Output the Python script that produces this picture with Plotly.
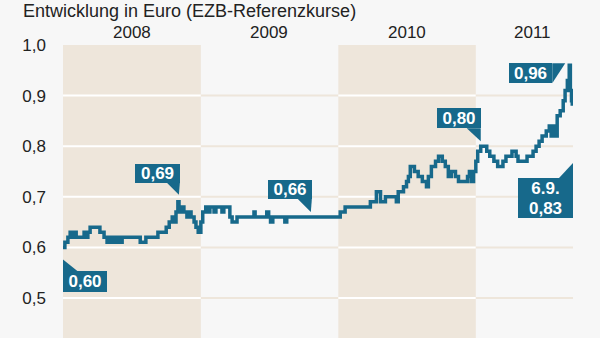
import plotly.graph_objects as go

# ---- data ----
dates = [
    "2008-01-01", "2008-01-06", "2008-01-14", "2008-01-20", "2008-01-22", "2008-01-30",
    "2008-02-05", "2008-02-26", "2008-03-02", "2008-03-07", "2008-03-13", "2008-04-08",
    "2008-04-19", "2008-04-27", "2008-05-05", "2008-05-07", "2008-05-15", "2008-05-18",
    "2008-05-26", "2008-05-29", "2008-06-06", "2008-07-24", "2008-08-08", "2008-09-09",
    "2008-10-01", "2008-10-09", "2008-10-17", "2008-10-22", "2008-10-27", "2008-11-01",
    "2008-11-04", "2008-11-07", "2008-11-12", "2008-11-17", "2008-11-25", "2008-12-01",
    "2008-12-06", "2008-12-14", "2008-12-19", "2008-12-25",
    "2009-01-01", "2009-01-06", "2009-01-14", "2009-01-20", "2009-01-25", "2009-02-05",
    "2009-02-10", "2009-02-26", "2009-03-03", "2009-03-19", "2009-03-25", "2009-04-07",
    "2009-05-22", "2009-05-25", "2009-06-25", "2009-06-30", "2009-07-05", "2009-07-11",
    "2009-08-12", "2009-08-17",
    "2010-01-01", "2010-01-06", "2010-01-19", "2010-03-27", "2010-04-12", "2010-04-23",
    "2010-05-06", "2010-06-04", "2010-06-09", "2010-06-23", "2010-07-01", "2010-07-06",
    "2010-07-11", "2010-07-22", "2010-08-01", "2010-08-12", "2010-08-23", "2010-08-28",
    "2010-09-05", "2010-09-16", "2010-09-24", "2010-10-04", "2010-10-12", "2010-10-20",
    "2010-10-28", "2010-11-08", "2010-11-16", "2010-12-10", "2010-12-15", "2010-12-20",
    "2010-12-26",
    "2011-01-01", "2011-01-06", "2011-01-14", "2011-01-30", "2011-02-07", "2011-02-18",
    "2011-02-28", "2011-03-14", "2011-03-22", "2011-04-07", "2011-04-18", "2011-04-23",
    "2011-05-17", "2011-06-02", "2011-06-10", "2011-06-18", "2011-06-26", "2011-07-07",
    "2011-07-15", "2011-07-20", "2011-07-25", "2011-07-31", "2011-08-05", "2011-08-13",
    "2011-08-21", "2011-08-26", "2011-09-01", "2011-09-06", "2011-09-09", "2011-09-12",
    "2011-09-14",
]
values = [
    0.60, 0.61, 0.62, 0.63, 0.62, 0.63,
    0.62, 0.63, 0.62, 0.63, 0.64, 0.63,
    0.62, 0.61, 0.62, 0.61, 0.62, 0.61,
    0.62, 0.61, 0.62, 0.61, 0.62, 0.63,
    0.64, 0.65, 0.66, 0.65, 0.67, 0.69,
    0.68, 0.67, 0.68, 0.67, 0.66, 0.67,
    0.66, 0.65, 0.64, 0.63,
    0.65, 0.67, 0.68, 0.67, 0.68, 0.67,
    0.68, 0.67, 0.68, 0.66, 0.65, 0.66,
    0.67, 0.66, 0.67, 0.66, 0.65, 0.66,
    0.65, 0.66,
    0.66, 0.67, 0.68, 0.69, 0.71, 0.69,
    0.70, 0.69, 0.71, 0.72, 0.73, 0.74,
    0.76, 0.75, 0.74, 0.73, 0.72, 0.74,
    0.76, 0.77, 0.78, 0.77, 0.76, 0.74,
    0.75, 0.74, 0.73, 0.74, 0.75, 0.73,
    0.75,
    0.77, 0.79, 0.80, 0.79, 0.78, 0.77,
    0.76, 0.77, 0.78, 0.79, 0.78, 0.77,
    0.78, 0.79, 0.80, 0.81, 0.82, 0.83,
    0.84, 0.82, 0.84, 0.82, 0.86, 0.87,
    0.89, 0.91, 0.93, 0.96, 0.91, 0.89,
    0.88,
]

title_text = "Entwicklung in Euro (EZB-Referenzkurse)"
years = ["2008", "2009", "2010", "2011"]
year_starts = ["2008-01-01", "2009-01-01", "2010-01-01", "2011-01-01"]
year_ends = ["2009-01-01", "2010-01-01", "2011-01-01", "2011-09-16"]
year_label_pos = ["2008-07-02", "2009-07-02", "2010-07-02", "2011-06-01"]
year_shaded = [True, False, True, False]
y_ticks = [0.5, 0.6, 0.7, 0.8, 0.9, 1.0]
grid_vals = [0.5, 0.6, 0.7, 0.8, 0.9]

# callouts: text lines, anchor date, anchor value
callout_lines = [["0,60"], ["0,69"], ["0,66"], ["0,80"], ["0,96"], ["6.9.", "0,83"]]
callout_x = ["2008-01-01", "2008-11-01", "2009-10-20", "2011-01-14", "2011-09-06", "2011-09-16"]
callout_y = [0.60, 0.69, 0.66, 0.80, 0.96, 0.83]

# ---- styles ----
TEAL = "#17698b"
BEIGE = "#eee6db"
BG = "#f7f7f7"
TXT = "#222222"
FONT = "Liberation Sans, Arial, sans-serif"

# per-callout box placement (pixels relative to anchor point)
box_style = [
    dict(xanchor="left", yanchor="top", xshift=0, yshift=-24, width=44, line_h=21,
         ptr="M0,-12 L0,-24 L15,-24 Z"),
    dict(xanchor="right", yanchor="bottom", xshift=2, yshift=19, width=45, line_h=19,
         ptr="M-11,19 L2,19 L1,7 Z"),
    dict(xanchor="right", yanchor="bottom", xshift=1, yshift=18, width=44, line_h=19,
         ptr="M-13,18 L1,18 L0,5 Z"),
    dict(xanchor="right", yanchor="bottom", xshift=0, yshift=18, width=44, line_h=20,
         ptr="M-14,18 L0,18 L0,5 Z"),
    dict(xanchor="right", yanchor="top", xshift=-17, yshift=2, width=43, line_h=20,
         ptr="M-17,2 L-4,2 L-17,-18 Z"),
    dict(xanchor="right", yanchor="top", xshift=0, yshift=-47, width=55, line_h=20,
         ptr="M0,-32 L0,-47 L-14,-47 Z"),
]

y_range = [0.4209, 1.0]

fig = go.Figure()
fig.add_trace(go.Scatter(
    x=dates, y=values, mode="lines", line=dict(color=TEAL, width=3.5, shape="hv"),
    hoverinfo="skip", showlegend=False,
))

shapes = []
# year bands
for ys, ye, sh in zip(year_starts, year_ends, year_shaded):
    if sh:
        shapes.append(dict(type="rect", xref="x", yref="y", x0=ys, x1=ye,
                           y0=y_range[0], y1=1.0, fillcolor=BEIGE, line_width=0,
                           layer="below"))
# grid lines per year segment
for ys, ye, sh in zip(year_starts, year_ends, year_shaded):
    for g in grid_vals:
        shapes.append(dict(type="line", xref="x", yref="y", x0=ys, x1=ye, y0=g, y1=g,
                           line=dict(color="#ffffff" if sh else BEIGE, width=2),
                           layer="below"))
# callout pointers
for cx, cy, st in zip(callout_x, callout_y, box_style):
    shapes.append(dict(type="path", xref="x", yref="y", xsizemode="pixel",
                       ysizemode="pixel", xanchor=cx, yanchor=cy, path=st["ptr"],
                       fillcolor=TEAL, line_width=0, layer="above"))

annotations = []
for lines, cx, cy, st in zip(callout_lines, callout_x, callout_y, box_style):
    n = len(lines)
    for i, t in enumerate(lines):
        # stack lines as adjacent boxes forming one label
        if st["yanchor"] == "top":
            ysh = st["yshift"] - i * st["line_h"]
        else:
            ysh = st["yshift"] + (n - 1 - i) * st["line_h"]
        annotations.append(dict(
            x=cx, y=cy, xref="x", yref="y", text="<b>" + t + "</b>", showarrow=False,
            xanchor=st["xanchor"], yanchor=st["yanchor"], xshift=st["xshift"],
            yshift=ysh, width=st["width"], height=st["line_h"],
            bgcolor=TEAL, borderpad=0, borderwidth=0, align="center", valign="middle",
            font=dict(family=FONT, size=17, color="white"),
        ))
for yl, pos in zip(years, year_label_pos):
    annotations.append(dict(
        x=pos, y=1, xref="x", yref="paper", text=yl, showarrow=False,
        xanchor="center", yanchor="middle", yshift=13,
        font=dict(family=FONT, size=17, color=TXT),
    ))
annotations.append(dict(
    x=0, y=1, xref="paper", yref="paper", text=title_text, showarrow=False,
    xanchor="left", yanchor="middle", xshift=-42, yshift=34,
    font=dict(family=FONT, size=18, color=TXT),
))

fig.update_layout(
    width=600, height=338,
    margin=dict(l=63, r=27, t=45, b=0, pad=0),
    paper_bgcolor=BG, plot_bgcolor=BG,
    separators=",.",
    shapes=shapes, annotations=annotations,
    xaxis=dict(type="date", range=["2008-01-01", "2011-09-16"], visible=False,
               showgrid=False, zeroline=False, fixedrange=True),
    yaxis=dict(range=y_range, tickvals=y_ticks, tickformat=".1f", showgrid=False,
               zeroline=False, showline=False, ticks="", ticklabelstandoff=16,
               tickfont=dict(family=FONT, size=17, color=TXT), fixedrange=True),
    showlegend=False,
)

fig.write_html("out.html")
